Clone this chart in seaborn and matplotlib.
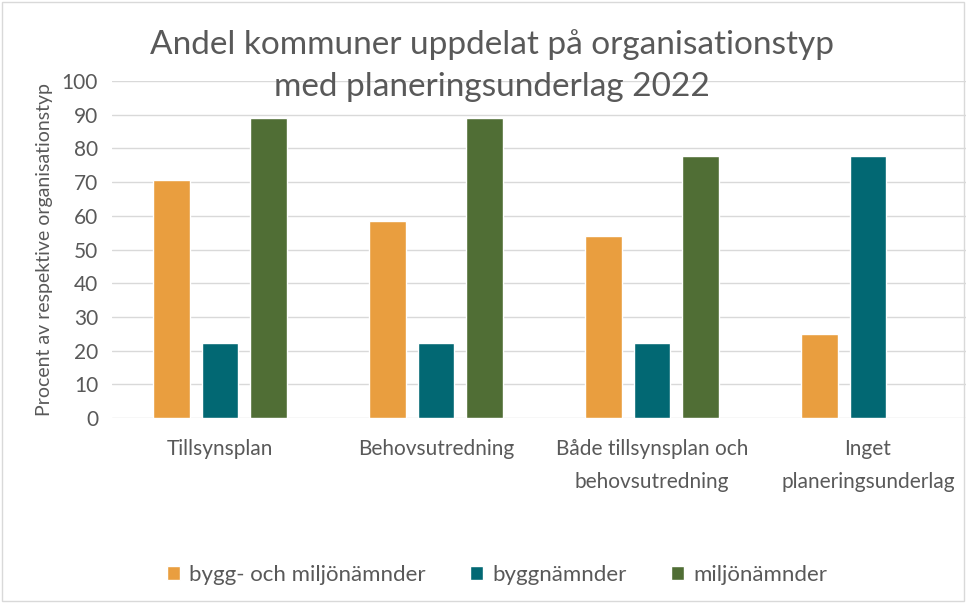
import numpy as np
import pandas as pd
import matplotlib.pyplot as plt
import seaborn as sns
from matplotlib.patches import Rectangle

# data
categories = ['Tillsynsplan', 'Behovsutredning',
              'Både tillsynsplan och\nbehovsutredning', 'Inget\nplaneringsunderlag']
series = ['bygg- och miljönämnder', 'byggnämnder', 'miljönämnder']
bygg_och_miljo = [70.6, 58.5, 54.1, 25.0]
bygg = [22.2, 22.2, 22.2, 77.8]
miljo = [89.1, 89.1, 77.8, np.nan]
colors = ['#e99e3f', '#026873', '#506e35']

df = pd.DataFrame({
    'kategori': categories * 3,
    'typ': [series[0]] * 4 + [series[1]] * 4 + [series[2]] * 4,
    'procent': bygg_och_miljo + bygg + miljo,
})

sns.set_style('white')
plt.rcParams['font.family'] = ['Lato', 'DejaVu Sans']
grey = '#595959'

fig = plt.figure(figsize=(9.66, 6.03), dpi=100)
ax = fig.add_axes([112 / 966, 185 / 603, 864 / 966, 337 / 603])

sns.barplot(data=df, x='kategori', y='procent', hue='typ', order=categories,
            hue_order=series, palette=colors, saturation=1, width=0.675, gap=0.245,
            ax=ax, legend=True)

ax.set_ylim(0, 100)
ax.set_xlim(-0.5, 3.5)
ax.set_yticks(range(0, 101, 10))
ax.yaxis.grid(True, color='#d9d9d9', linewidth=1)
ax.set_axisbelow(True)
for s in ax.spines.values():
    s.set_visible(False)
ax.tick_params(axis='both', length=0, colors=grey)
ax.tick_params(axis='y', labelsize=15, pad=10)
ax.tick_params(axis='x', labelsize=15, pad=15)
for t in ax.get_xticklabels():
    t.set_linespacing(1.8)
ax.set_xlabel('')
ax.set_ylabel('Procent av respektive organisationstyp', color=grey, fontsize=14, labelpad=6)

handles, labels = ax.get_legend_handles_labels()
ax.legend_.remove()
fig.legend(handles, labels, loc='center', bbox_to_anchor=(497 / 966, 1 - 575 / 603),
           ncol=3, frameon=False, fontsize=16, labelcolor=grey,
           handlelength=0.6, handleheight=0.6, handletextpad=0.4, columnspacing=2.0)

fig.text(492 / 966, 1 - 45 / 603, 'Andel kommuner uppdelat på organisationstyp',
         ha='center', va='center', fontsize=24, color=grey)
fig.text(492 / 966, 1 - 87 / 603, 'med planeringsunderlag 2022',
         ha='center', va='center', fontsize=24, color=grey)

fig.patches.append(Rectangle((0.002, 0.003), 0.996, 0.994, transform=fig.transFigure,
                             fill=False, edgecolor='#d9d9d9', linewidth=1))

fig.savefig('out.png', dpi=100)
